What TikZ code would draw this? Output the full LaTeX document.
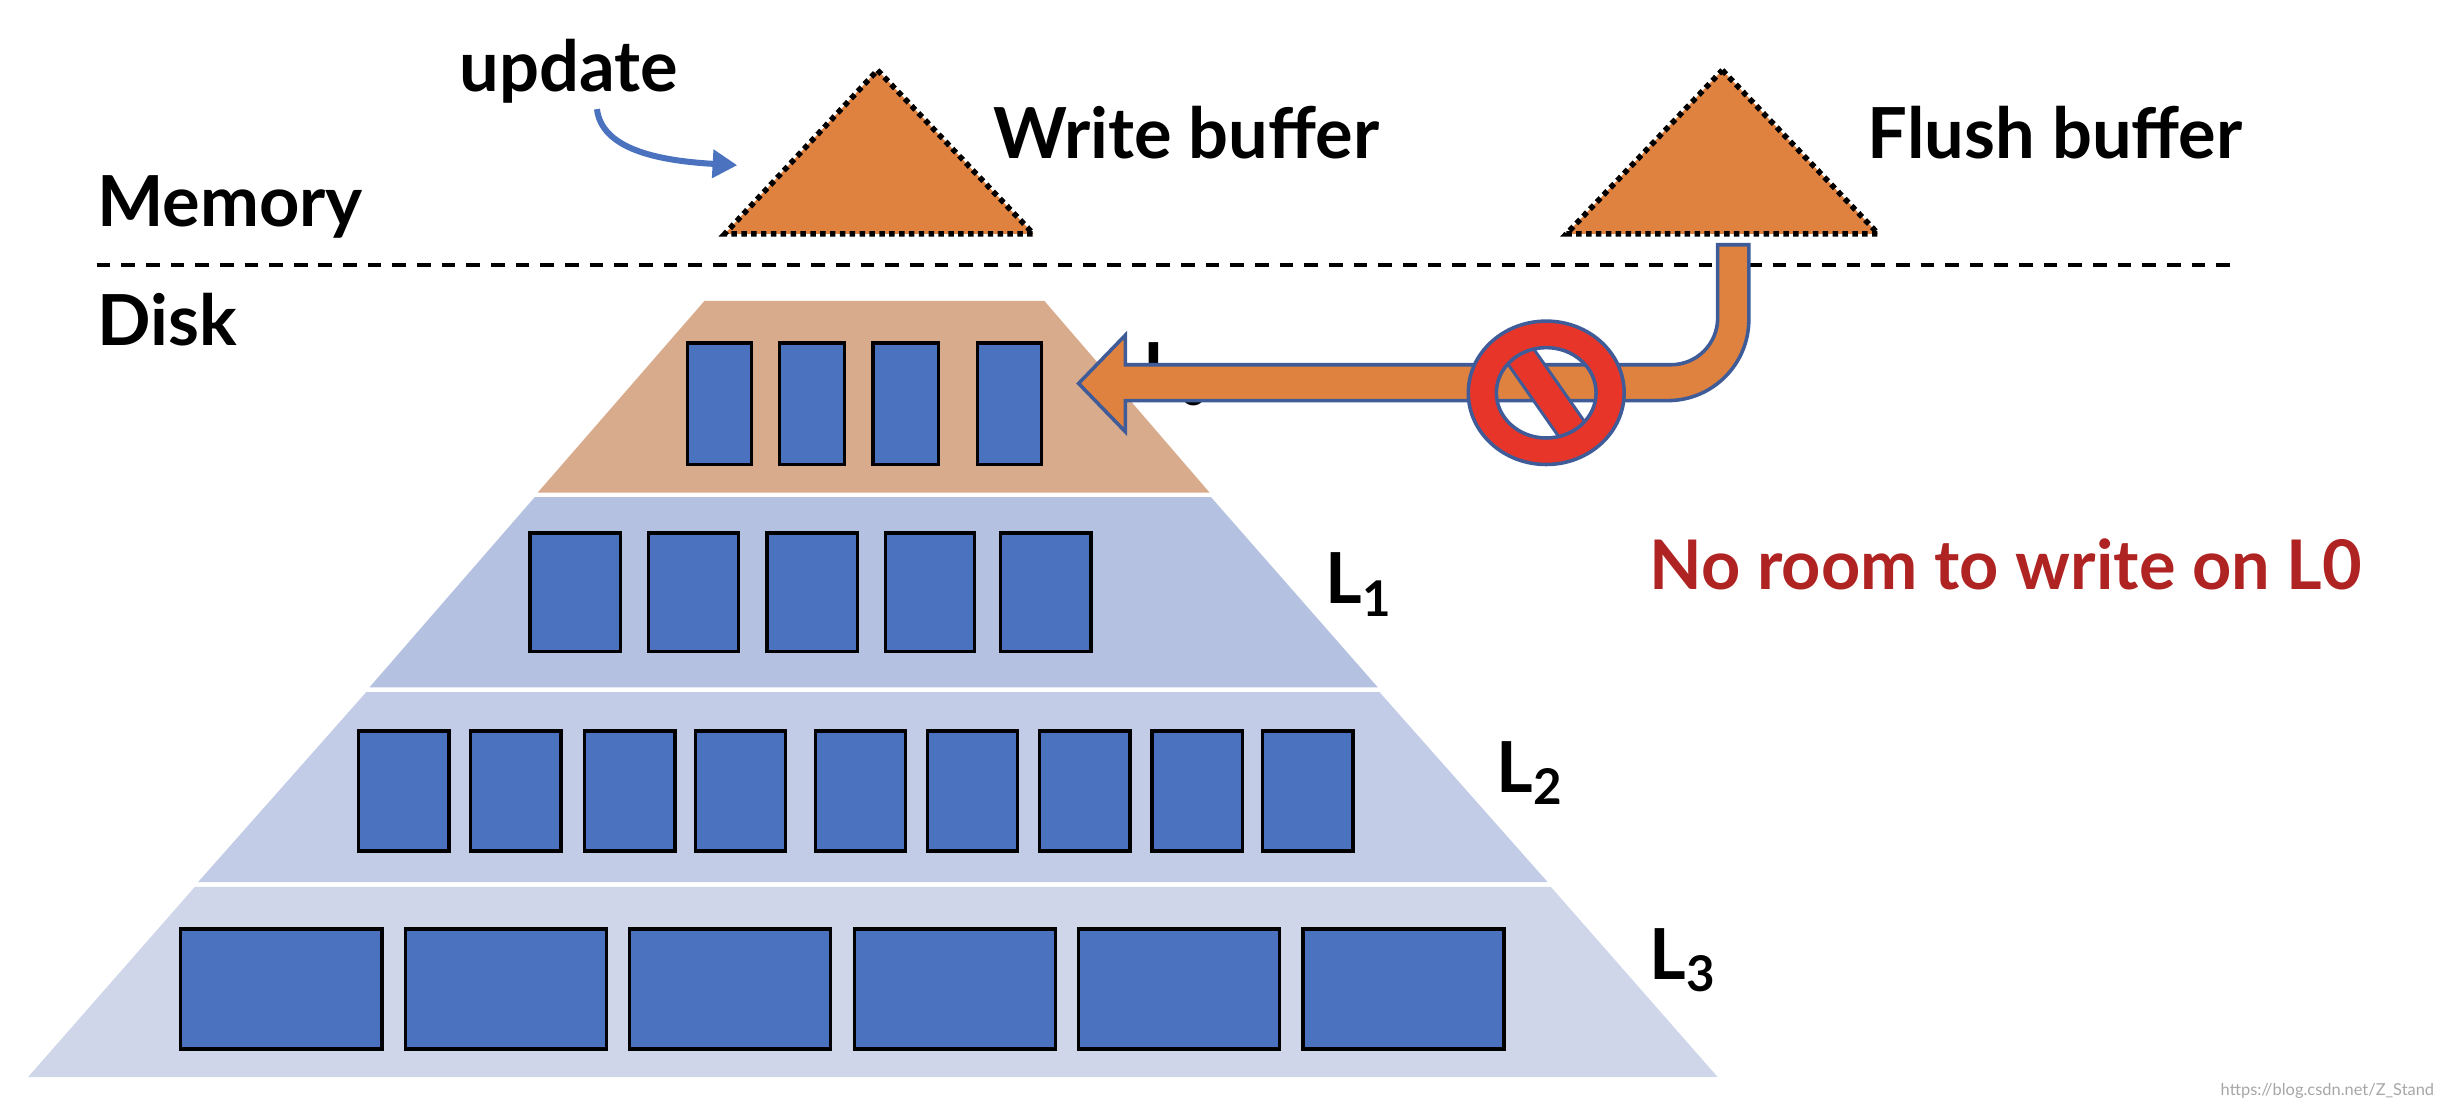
\documentclass[tikz,border=0pt]{standalone}
\usepackage{fontspec}
\setmainfont{Lato}
\usetikzlibrary{arrows.meta}
\definecolor{org}{HTML}{E0823F}
\definecolor{tan}{HTML}{D9AB8D}
\definecolor{la}{HTML}{B5C1E1}
\definecolor{lb}{HTML}{C3CCE6}
\definecolor{lc}{HTML}{CFD6EA}
\definecolor{box}{HTML}{4B72BE}
\definecolor{edge}{HTML}{3F5C99}
\definecolor{stop}{HTML}{E8352A}
\definecolor{warn}{HTML}{B02323}
\tikzset{
 lbl/.style={font=\fontsize{25.7}{30}\selectfont\bfseries, inner sep=0pt},
 buf/.style={fill=org, draw=black, line width=2pt, dash pattern=on 2pt off 1.6pt},
 blk/.style={fill=box, draw=black, line width=1.2pt},
}
\begin{document}
\begin{tikzpicture}[x=0.02cm,y=-0.02cm]
\useasboundingbox (0,0) rectangle (1568,708);
% levels
\fill[lc] (125,569) -- (995,569) -- (1102,691) -- (18,691) -- cycle;
\fill[lb] (235,444) -- (885,444) -- (993,566) -- (127,566) -- cycle;
\fill[la] (343,319) -- (777,319) -- (884,441) -- (237,441) -- cycle;
\fill[tan] (452,193) -- (670,193) -- (776,316) -- (345,316) -- cycle;
% blocks
\foreach \a/\b in {441/482,500/542,560/602,627/668} \draw[blk] (\a,220) rectangle (\b,298);
\foreach \a/\b in {340/398,416/474,492/550,568/625,642/700} \draw[blk] (\a,342) rectangle (\b,418);
\foreach \a in {230,302,375,446,523,595,667,739,810} \draw[blk] (\a,469) rectangle ++(58,77);
\foreach \a in {116,260,404,548,692,836} \draw[blk] (\a,596) rectangle ++(129,77);
% labels
\node[lbl,anchor=west] (l0) at (733,240) {L\textsubscript{0}};
\node[lbl,anchor=west] (l1) at (850,375) {L\textsubscript{1}};
\node[lbl,anchor=west] (l2) at (960,496) {L\textsubscript{2}};
\node[lbl,anchor=west] (l3) at (1058,616) {L\textsubscript{3}};
% memory/disk
\draw[line width=1.3pt, dash pattern=on 5pt off 4pt] (62,170) -- (1432,170);
\node[lbl,anchor=west] (mem) at (62,133) {Memory};
\node[lbl,anchor=west] (disk) at (62,205) {Disk};
% buffers
\draw[buf] (563,45) -- (663,150) -- (465,150) -- cycle;
\draw[buf] (1105,45) -- (1205,150) -- (1005,150) -- cycle;
\node[lbl,anchor=west] (wb) at (637,85) {Write buffer};
\node[lbl,anchor=west] (fb) at (1198,85) {Flush buffer};
\node[lbl] (upd) at (365,46) {update};
\coordinate (wbt) at (473,106);
\draw[box, line width=2.2pt, -{Triangle[length=9pt,width=10pt]}] (383,70) .. controls (386,95) and (420,103) .. (wbt);
% flush arrow
\draw[fill=org, draw=edge, line width=1.3pt] (692,246) -- (722,215) -- (722,234) -- (1072,234)
  .. controls (1088.6,234) and (1102,220.6) .. (1102,204) -- (1102,157) -- (1122,157) -- (1122,205)
  .. controls (1122,233.7) and (1098.7,257) .. (1070,257) -- (722,257) -- (722,277) -- cycle;
% prohibition
\begin{scope}
\clip (992,252) ellipse [x radius=0.64cm, y radius=0.58cm];
\draw[edge, line width=0.42cm] (964,212) -- (1020,292);
\draw[stop, line width=0.34cm] (964,212) -- (1020,292);
\end{scope}
\draw[fill=stop, draw=edge, line width=1.3pt, even odd rule] (992,252) ellipse [x radius=1.0cm, y radius=0.92cm] (992,252) ellipse [x radius=0.64cm, y radius=0.58cm];
\node[font=\fontsize{25}{30}\selectfont\bfseries, text=warn, anchor=west, inner sep=0pt] (no) at (1058,362) {No room to write on L0};
\node[font=\fontsize{6}{7}\selectfont, text=gray!70, anchor=east, inner sep=0pt] (wm) at (1562,700) {https://blog.csdn.net/Z\_Stand};
\end{tikzpicture}
\end{document}
